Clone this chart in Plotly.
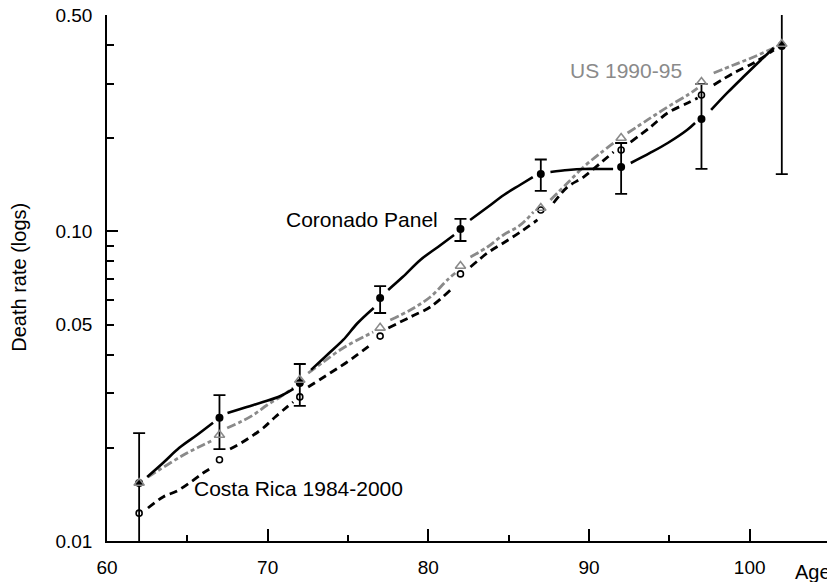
import math
import plotly.graph_objects as go

# Marker ages and rates
ages = [62, 67, 72, 77, 82, 87, 92, 97, 102]
coronado_rate = [0.0154, 0.0250, 0.0324, 0.0609, 0.1018, 0.1532, 0.1614, 0.2307, 0.397]
coronado_lo = [0.0095, 0.0198, 0.0273, 0.0545, 0.0931, 0.1351, 0.1321, 0.1591, 0.1532]
coronado_hi = [0.0223, 0.0296, 0.0373, 0.0666, 0.1097, 0.1707, 0.1930, 0.2993, 0.60]
us_rate = [0.0154, 0.0220, 0.0331, 0.0488, 0.0773, 0.1190, 0.2003, 0.3039, 0.403]
cr_rate = [0.0123, 0.0183, 0.0292, 0.0459, 0.0729, 0.1173, 0.1832, 0.2759, 0.400]

# Smoothed curves (drawn in pieces between the markers; None = break)
cor_age = [62.5, 63.5, 64.5, 65.6, 66.6, None,
           67.5, 68.7, 69.7, 70.8, 71.6, None,
           72.7, 73.7, 74.7, 75.6, 76.6, None,
           77.5, 78.4, 79.5, 80.6, 81.6, None,
           82.6, 83.7, 84.7, 85.7, 86.5, None,
           87.6, 88.7, 89.7, 90.7, 91.5, None,
           92.6, 93.8, 94.9, 96.1, 96.6, None,
           97.6, 98.6, 99.6, 100.7, 101.5]
cor_val = [0.0161, 0.0179, 0.0200, 0.0220, 0.0241, None,
           0.0259, 0.0271, 0.0281, 0.0294, 0.0310, None,
           0.0357, 0.0399, 0.0446, 0.0506, 0.0566, None,
           0.0647, 0.0712, 0.0809, 0.0891, 0.0974, None,
           0.1089, 0.1199, 0.1311, 0.1412, 0.1498, None,
           0.1555, 0.1579, 0.1591, 0.1591, 0.1591, None,
           0.1663, 0.1792, 0.1930, 0.2126, 0.2240, None,
           0.2467, 0.2800, 0.3152, 0.3579, 0.3912]

cr_age = [62.55, 63.49, 64.36, 65.30, 65.98, 66.60, None,
          67.66, 68.35, 69.03, 69.72, 70.47, 71.21, 71.59, None,
          72.52, 73.89, 74.95, 76.39, None,
          77.51, 78.88, 80.12, 81.37, None,
          82.62, 83.68, 84.67, 85.73, 86.79, None,
          87.79, 88.66, 89.66, 90.72, 91.53, None,
          92.59, 93.83, 94.89, 96.14, 96.76, None,
          97.76, 99.00, 100.25, 101.50]
cr_val = [0.01278, 0.01388, 0.01451, 0.01562, 0.01658, 0.01734, None,
          0.01983, 0.02073, 0.02184, 0.02317, 0.02516, 0.02710, 0.02812, None,
          0.03143, 0.03488, 0.03786, 0.04297, None,
          0.04875, 0.05291, 0.05698, 0.06467, None,
          0.07674, 0.08518, 0.09175, 0.09957, 0.1089, None,
          0.1235, 0.1391, 0.1498, 0.1663, 0.1805, None,
          0.1944, 0.2174, 0.2413, 0.2600, 0.2698, None,
          0.2971, 0.3248, 0.3499, 0.3855]

us_age = [62.55, 63.93, 64.98, 65.98, 66.60, None,
          67.48, 68.29, 69.10, 69.97, 70.78, 71.59, None,
          72.52, 73.46, 74.70, 75.95, 76.57, None,
          77.63, 78.88, 80.12, 81.18, 81.68, None,
          82.62, 83.68, 84.67, 85.73, 86.54, None,
          87.60, 88.66, 89.66, 90.72, 91.53, None,
          92.40, 93.64, 94.89, 96.14, 96.76, None,
          97.76, 99.00, 100.25, 101.50, 101.9]
us_val = [0.0161, 0.01786, 0.01924, 0.02042, 0.02120, None,
          0.02317, 0.02423, 0.02553, 0.02750, 0.02919, 0.03120, None,
          0.03488, 0.03786, 0.04202, 0.04559, 0.04732, None,
          0.05175, 0.05574, 0.06138, 0.06968, 0.07340, None,
          0.08266, 0.08905, 0.09736, 0.1049, 0.1155, None,
          0.1263, 0.1433, 0.1614, 0.1792, 0.1930, None,
          0.2079, 0.2291, 0.2522, 0.2758, 0.2905, None,
          0.3248, 0.3447, 0.3659, 0.3912, 0.400]

y_tickvals = [0.01, 0.02, 0.03, 0.04, 0.05, 0.06, 0.07, 0.08, 0.09,
              0.1, 0.2, 0.3, 0.4, 0.5]
y_ticktext = ["0.01", "", "", "", "0.05", "", "", "", "",
              "0.10", "", "", "", "0.50"]
x_tickvals = [60, 70, 80, 90, 100]
x_minor = [65, 75, 85, 95, 105]

GRAY = "#8a8a8a"
FONT = "Liberation Sans, Arial, sans-serif"
YRANGE = [math.log10(0.01), math.log10(0.5)]

fig = go.Figure()

fig.add_trace(go.Scatter(x=cr_age, y=cr_val, mode="lines", connectgaps=False,
                         line=dict(color="black", width=2.8, dash="8px,5px", shape="spline"),
                         hoverinfo="skip", showlegend=False))
fig.add_trace(go.Scatter(x=us_age, y=us_val, mode="lines", connectgaps=False,
                         line=dict(color=GRAY, width=2.8, dash="9px,3px,4px,3px", shape="spline"),
                         hoverinfo="skip", showlegend=False))
fig.add_trace(go.Scatter(x=cor_age, y=cor_val, mode="lines", connectgaps=False,
                         line=dict(color="black", width=2.6, shape="spline"),
                         hoverinfo="skip", showlegend=False))

err_plus = [h - v for h, v in zip(coronado_hi, coronado_rate)]
err_minus = [v - l for v, l in zip(coronado_rate, coronado_lo)]
fig.add_trace(go.Scatter(x=ages, y=coronado_rate, mode="markers",
                         marker=dict(symbol="circle", size=8, color="black"),
                         error_y=dict(type="data", symmetric=False, array=err_plus,
                                      arrayminus=err_minus, color="black",
                                      thickness=1.8, width=6),
                         showlegend=False))
fig.add_trace(go.Scatter(x=ages, y=cr_rate, mode="markers",
                         marker=dict(symbol="circle-open", size=6, color="black",
                                     line=dict(width=1.6, color="black")),
                         showlegend=False))
fig.add_trace(go.Scatter(x=ages, y=us_rate, mode="markers",
                         marker=dict(symbol="triangle-up-open", size=9, color=GRAY,
                                     line=dict(width=1.6, color=GRAY)),
                         showlegend=False))
# dummy trace for the overlay axis carrying the long decade ticks
fig.add_trace(go.Scatter(x=[None], y=[None], yaxis="y2", showlegend=False,
                         hoverinfo="skip"))

# the page body adds an 8px offset; margins compensate so the plot lands in place
fig.update_layout(
    width=835, height=582,
    margin=dict(l=99, r=13, t=7, b=49, autoexpand=False),
    paper_bgcolor="white", plot_bgcolor="white",
    font=dict(family=FONT, size=19, color="black"),
    xaxis=dict(range=[60, 105], tickvals=x_tickvals, ticks="inside", ticklen=12,
               tickwidth=1.6, tickcolor="black", showline=True, linecolor="black",
               linewidth=1.6, showgrid=False, zeroline=False, automargin=False,
               ticklabelstandoff=8, ticklabeloverflow="allow",
               minor=dict(tickvals=x_minor, ticks="inside", ticklen=6,
                          tickwidth=1.6, tickcolor="black")),
    yaxis=dict(type="log", range=YRANGE, tickvals=y_tickvals,
               ticktext=y_ticktext, ticks="inside", ticklen=7, tickwidth=1.6,
               tickcolor="black", showline=True, linecolor="black", linewidth=1.6,
               showgrid=False, zeroline=False, automargin=False,
               ticklabelstandoff=9, ticklabeloverflow="allow"),
    yaxis2=dict(type="log", range=YRANGE, overlaying="y", side="left",
                tickvals=[0.01, 0.1], ticks="inside", ticklen=11, tickwidth=1.6,
                tickcolor="black", showticklabels=False, showline=False,
                showgrid=False, zeroline=False, automargin=False),
)

ann = dict(showarrow=False, xanchor="center", yanchor="middle")
fig.add_annotation(text="Coronado Panel", x=75.86, xref="x", y=0.6103, yref="paper",
                   font=dict(size=21, color="black"), **ann)
fig.add_annotation(text="Costa Rica 1984-2000", x=71.93, xref="x", y=0.0998, yref="paper",
                   font=dict(size=21, color="black"), **ann)
fig.add_annotation(text="US 1990-95", x=92.31, xref="x", y=0.8954, yref="paper",
                   font=dict(size=21, color=GRAY), **ann)
fig.add_annotation(text="Age", x=103.96, xref="x", y=-0.0595, yref="paper",
                   font=dict(size=20, color="black"), **ann)
fig.add_annotation(text="Death rate (logs)", x=-0.122, xref="paper", y=0.502,
                   yref="paper", textangle=-90, font=dict(size=20, color="black"), **ann)

fig.write_html("out.html")
